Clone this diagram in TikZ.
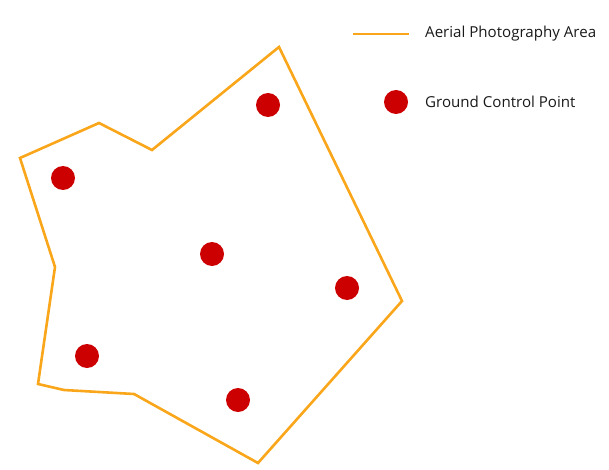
\documentclass[tikz,border=0pt]{standalone}
\usepackage{fontspec}
\setmainfont{Open Sans}
\definecolor{areaorange}{RGB}{250,166,26}
\definecolor{gcpred}{RGB}{204,0,0}
\tikzset{
  arealine/.style={draw=areaorange, line width=2.6pt, line join=miter},
  gcp/.style={circle, fill=gcpred, inner sep=0pt, minimum size=24pt},
  legendtext/.style={anchor=west, inner sep=0pt, font=\fontsize{15.1}{18}\selectfont, text=black!90}
}
\begin{document}
\begin{tikzpicture}[x=1pt,y=-1pt]
\useasboundingbox (0,0) rectangle (609,470);
% polygon vertices
\coordinate (p1) at (279,47);
\coordinate (p2) at (402,301);
\coordinate (p3) at (258,463);
\coordinate (p4) at (134,394);
\coordinate (p5) at (64,390);
\coordinate (p6) at (38,384);
\coordinate (p7) at (55,267);
\coordinate (p8) at (20,158);
\coordinate (p9) at (99,123);
\coordinate (p10) at (152,150);
\draw[arealine] (p1) -- (p2) -- (p3) -- (p4) -- (p5) -- (p6) -- (p7) -- (p8) -- (p9) -- (p10) -- cycle;
% ground control points
\node[gcp] (g1) at (268,105) {};
\node[gcp] (g2) at (63,178) {};
\node[gcp] (g3) at (212,254) {};
\node[gcp] (g4) at (347,288) {};
\node[gcp] (g5) at (87,356) {};
\node[gcp] (g6) at (238,400) {};
% legend
\coordinate (la) at (353,34);
\coordinate (lb) at (409,34);
\draw[areaorange, line width=2.6pt] (la) -- (lb);
\node[legendtext] (t1) at (425,34) {Aerial Photography Area};
\node[gcp] (lg) at (396,102) {};
\node[legendtext] (t2) at (425,102) {Ground Control Point};
\end{tikzpicture}
\end{document}
